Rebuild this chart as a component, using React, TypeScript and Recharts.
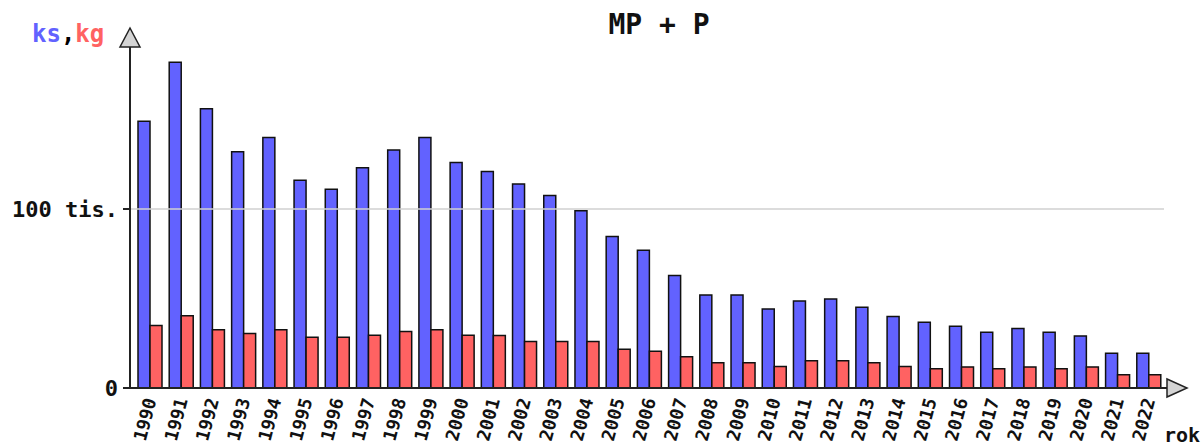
import { BarChart, Bar, XAxis, YAxis, ReferenceLine, Label } from "recharts";

// values in thousands
const years = [
  "1990", "1991", "1992", "1993", "1994", "1995", "1996", "1997", "1998", "1999",
  "2000", "2001", "2002", "2003", "2004", "2005", "2006", "2007", "2008", "2009",
  "2010", "2011", "2012", "2013", "2014", "2015", "2016", "2017", "2018", "2019",
  "2020", "2021", "2022",
];
const ks = [
  149, 182, 156, 132, 140, 116, 111, 123, 133, 140,
  126, 121, 114, 107.5, 99, 84.7, 76.9, 62.9, 52, 52,
  44.1, 48.6, 49.7, 45.1, 39.9, 36.7, 34.5, 31.1, 33.3, 31.1,
  29.1, 19.4, 19.4,
];
const kg = [
  34.9, 40.3, 32.5, 30.4, 32.5, 28.4, 28.4, 29.5, 31.5, 32.6,
  29.5, 29.3, 26, 26, 26, 21.7, 20.6, 17.4, 14.1, 14.1,
  12, 15.2, 15.2, 14.1, 12, 10.7, 11.8, 10.7, 11.8, 10.7,
  11.8, 7.4, 7.4,
];
const yTicks = [0, 100];

const data = years.map((year, i) => ({ year, ks: ks[i], kg: kg[i] }));

const MONO = "'DejaVu Sans Mono', 'Liberation Mono', monospace";
const BLUE = "#6262ff";
const RED = "#ff6262";
const AXIS = "#222";

const XTick = (props: any) => {
  const { x, y, payload } = props;
  const ax = x + 7;
  const ay = y + 4;
  return (
    <text
      x={ax}
      y={ay}
      transform={`rotate(-75, ${ax}, ${ay})`}
      textAnchor="end"
      fontFamily={MONO}
      fontWeight="bold"
      fontSize={18}
      fill="#111"
    >
      {payload.value}
    </text>
  );
};

const YDecor = (props: any) => {
  const { x, y, width } = props.viewBox;
  const ax = x + width;
  return (
    <g>
      <polygon
        points={`${ax},${y - 19} ${ax - 10},${y} ${ax + 10},${y}`}
        fill="#d4d4d4"
        stroke={AXIS}
        strokeWidth={1.5}
      />
      <text x={ax - 98} y={y - 5} fontFamily={MONO} fontWeight="bold" fontSize={24}>
        <tspan fill={BLUE}>ks</tspan>
        <tspan fill="#000">,</tspan>
        <tspan fill={RED}>kg</tspan>
      </text>
      <text x={659} y={34} textAnchor="middle" fontFamily={MONO} fontWeight="bold" fontSize={28} fill="#111">
        MP + P
      </text>
    </g>
  );
};

const XDecor = (props: any) => {
  const { x, y, width } = props.viewBox;
  const ex = x + width;
  return (
    <g>
      <line x1={x - 7} y1={y} x2={x} y2={y} stroke={AXIS} strokeWidth={2} />
      <line x1={ex} y1={y} x2={ex + 3} y2={y} stroke={AXIS} strokeWidth={2} />
      <polygon
        points={`${ex + 3},${y - 9} ${ex + 3},${y + 9} ${ex + 23},${y}`}
        fill="#d4d4d4"
        stroke={AXIS}
        strokeWidth={1.5}
      />
      <text x={ex} y={442} fontFamily={MONO} fontWeight="bold" fontSize={20} fill="#111">
        rok
      </text>
    </g>
  );
};

export default function App() {
  return (
    <div style={{ position: "absolute", left: 0, top: 0, width: 1204, height: 446, background: "#fff" }}>
      <BarChart
        width={1204}
        height={446}
        data={data}
        margin={{ top: 47, right: 40, left: 0, bottom: 0 }}
        barGap={0}
      >
        <ReferenceLine y={100} stroke="#d0d0d0" strokeWidth={1.5} />
        <XAxis
          dataKey="year"
          interval={0}
          height={58}
          padding={{ left: 4, right: 0 }}
          tickLine={false}
          axisLine={{ stroke: AXIS, strokeWidth: 2 }}
          tick={<XTick />}
        >
          <Label content={XDecor} />
        </XAxis>
        <YAxis
          width={130}
          domain={[0, 190.5]}
          ticks={yTicks}
          allowDataOverflow
          tickSize={7}
          tickMargin={5}
          tickFormatter={(v: number) => (v === 0 ? "0" : "100 tis.")}
          axisLine={{ stroke: AXIS, strokeWidth: 2 }}
          tickLine={{ stroke: AXIS, strokeWidth: 2 }}
          tick={{ fontFamily: MONO, fontWeight: "bold", fontSize: 22, fill: "#111" }}
        >
          <Label content={YDecor} />
        </YAxis>
        <Bar dataKey="ks" fill={BLUE} stroke="#111" strokeWidth={1.5} barSize={12} isAnimationActive={false} />
        <Bar dataKey="kg" fill={RED} stroke="#111" strokeWidth={1.5} barSize={12} isAnimationActive={false} />
      </BarChart>
    </div>
  );
}
